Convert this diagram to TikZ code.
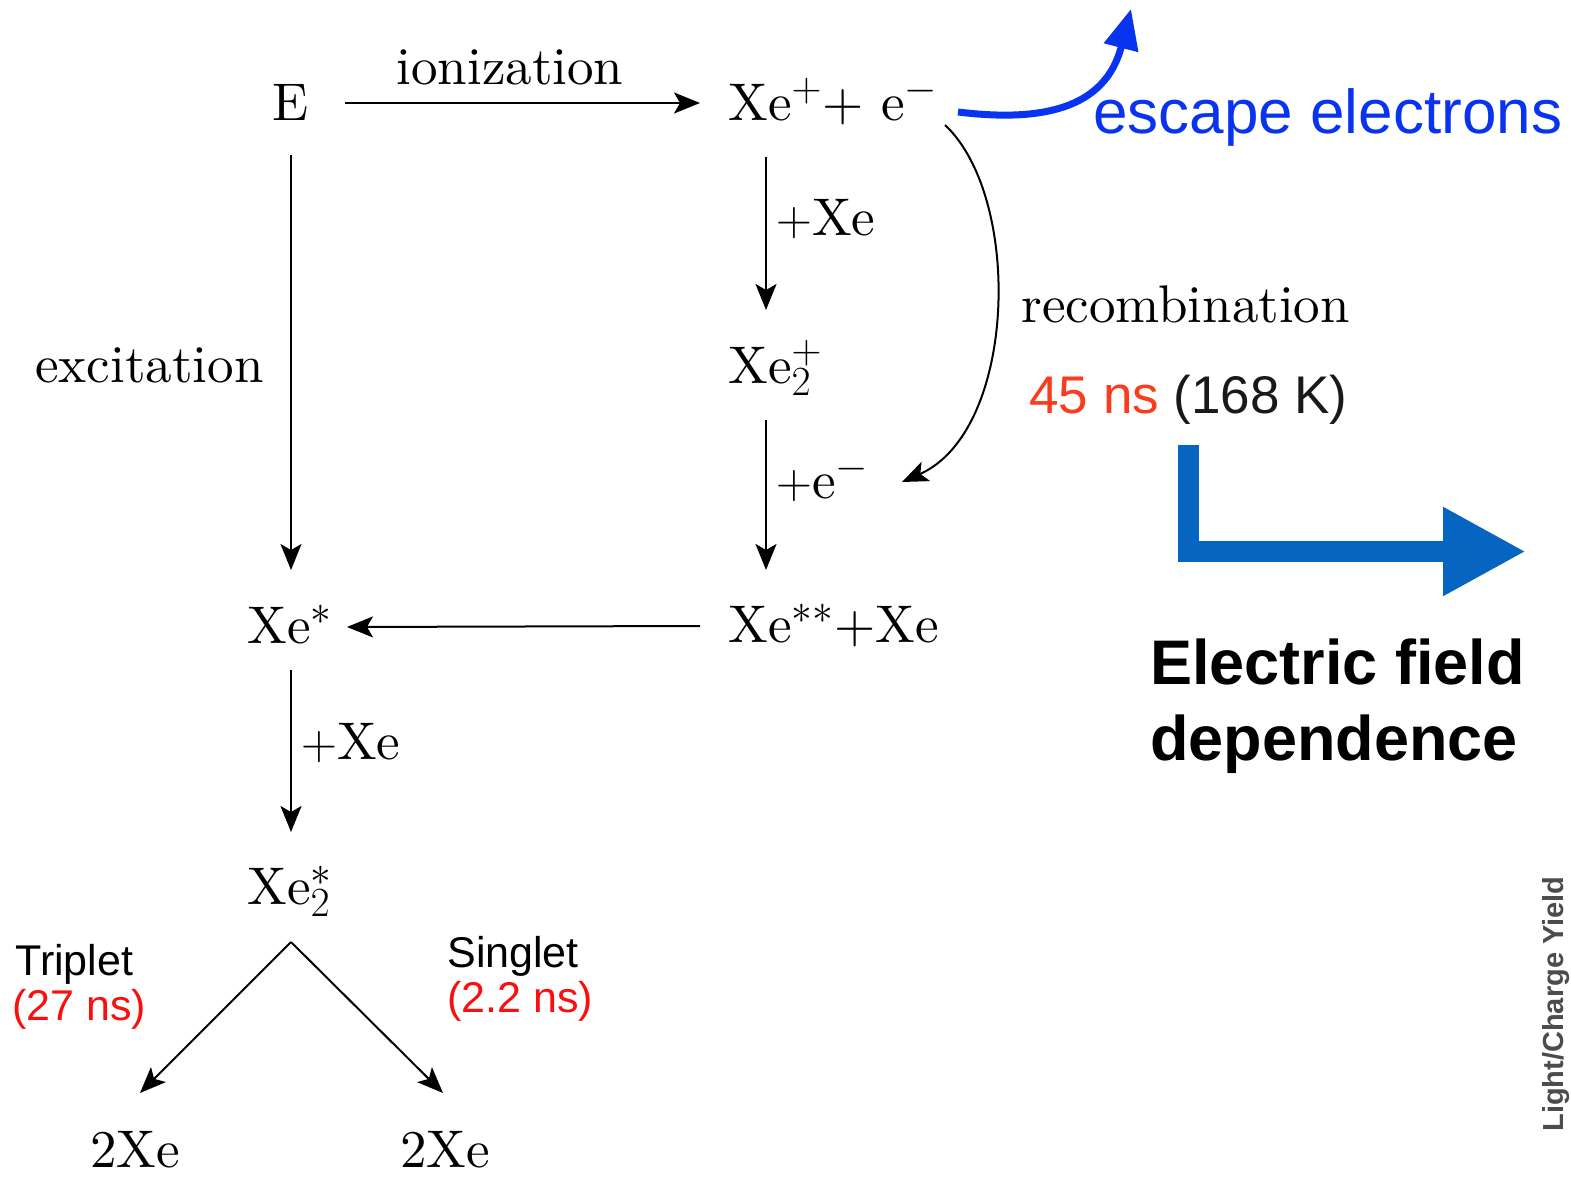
\documentclass[tikz,border=0pt]{standalone}
\usepackage{fontspec}
\setmainfont{lmroman10-regular.otf}[
  BoldFont=lmroman10-bold.otf,
  ItalicFont=lmroman10-italic.otf]
\DeclareMathSizes{26.5}{26.5}{21}{16}
\newfontfamily\hel{Liberation Sans}
\usetikzlibrary{arrows.meta,calc}
\definecolor{escblue}{RGB}{8,52,240}
\definecolor{lblue}{RGB}{5,101,192}
\definecolor{nsred}{RGB}{250,15,15}
\definecolor{ornred}{RGB}{250,60,30}
\definecolor{darktext}{RGB}{25,25,25}
\tikzset{
  lm/.style={inner sep=0pt, font=\fontsize{26.5}{30}\selectfont},
  helv/.style={inner sep=0pt, font=\hel\fontsize{21.5}{24}\selectfont},
  arr/.style={line width=1pt, -{Stealth[length=13pt,width=10.5pt,inset=3pt]}},
}
\begin{document}
\begin{tikzpicture}[x=0.5pt,y=-0.5pt]
\path[use as bounding box, fill=white] (0,0) rectangle (1571,1178);
\clip (0,0) rectangle (1571,1178);

% nodes
\node[lm,anchor=base] (E) at (291,120) {E};
\node[lm,anchor=base] (ion) at (510,84) {ionization};
\node[lm,anchor=base west] (Xep) at (728,120) {Xe$^{+}$+ e$^{-}$};
\node[lm,anchor=base west] (plusXeA) at (776,235) {$+\mathrm{Xe}$};
\node[lm,anchor=base west] (Xe2p) at (728,383) {Xe$_2^{+}$};
\node[lm,anchor=base west] (pluse) at (776,498) {$+\mathrm{e}^{-}$};
\node[lm,anchor=base west] (recomb) at (1021,322) {recombination};
\node[lm,anchor=base west] (exc) at (35,382) {excitation};
\node[lm,anchor=base west] (Xes) at (247,643) {Xe$^{*}$};
\node[lm,anchor=base west] (Xess) at (728,642) {Xe$^{**}$+Xe};
\node[lm,anchor=base west] (plusXeB) at (301,759) {$+\mathrm{Xe}$};
\node[lm,anchor=base west] (Xe2s) at (247,904) {Xe$_2^{*}$};
\node[lm,anchor=base west] (twoXeL) at (90,1167) {2Xe};
\node[lm,anchor=base west] (twoXeR) at (400,1167) {2Xe};

\node[inner sep=0pt,anchor=base west,font=\hel\fontsize{26.5}{30}\selectfont] (time) at (1029,413)
  {\textcolor{ornred}{45 ns} \textcolor{darktext}{(168 K)}};
\node[inner sep=0pt,anchor=base west,text=escblue,font=\hel\fontsize{31}{36}\selectfont] (esc) at (1093,133) {escape electrons};
\node[inner sep=0pt,anchor=base west,font=\hel\bfseries\fontsize{31.5}{38}\selectfont] (EFa) at (1150,684) {Electric field};
\node[inner sep=0pt,anchor=base west,font=\hel\bfseries\fontsize{31.5}{38}\selectfont] (EFb) at (1150,760) {dependence};

\node[helv,anchor=base west] (trip) at (15,975) {Triplet};
\node[helv,anchor=base west,text=nsred] (tripT) at (12,1020) {(27 ns)};
\node[helv,anchor=base west] (sing) at (447,967) {Singlet};
\node[helv,anchor=base west,text=nsred] (singT) at (447,1012) {(2.2 ns)};

\node[inner sep=0pt,anchor=base west,rotate=90,text=black!70,font=\hel\bfseries\fontsize{14.5}{16}\selectfont] (yield) at (1563,1132) {Light/Charge Yield};

% connectors
\draw[arr] ($(E.base)+(54,-17)$) -- ($(Xep.base west)+(-28,-17)$);
\draw[arr] ($(E.base)+(0,35)$) -- ($(Xes.base west)+(44,-73)$);
\draw[arr] ($(Xep.base west)+(38,37)$) -- ($(Xe2p.base west)+(38,-73)$);
\draw[arr] ($(Xe2p.base west)+(38,37)$) -- ($(Xess.base west)+(38,-72)$);
\draw[arr] ($(Xess.base west)+(-28,-16)$) -- ($(Xes.base west)+(100,-16)$);
\draw[arr] ($(Xes.base west)+(44,27)$) -- ($(Xe2s.base west)+(44,-72)$);
\draw[arr] ($(Xep.base west)+(217,5)$) .. controls +(78,73) and +(115,-51) .. ($(pluse.base west)+(126,-16)$);

\coordinate (apex) at ($(Xe2s.base west)+(44,38)$);
\draw[arr] (apex) -- ($(twoXeL.base west)+(50,-74)$);
\draw[arr] (apex) -- ($(twoXeR.base west)+(43,-74)$);

% escape electrons arrow
\coordinate (escTip) at (1131,9);
\draw[escblue, line width=3.5pt, -{Triangle[length=20pt,width=17pt]}]
  ($(Xep.base west)+(230,-8)$) .. controls +(82,10) and +(-26,101) .. (escTip);

% electric field arrow
\coordinate (Ltop) at (1188,445);
\coordinate (Ltip) at (1526,551.5);
\draw[lblue, line width=10.5pt, line join=miter, -{Triangle[length=41.5pt,width=41.5pt]}] (Ltop) |- (Ltip);
\end{tikzpicture}
\end{document}
